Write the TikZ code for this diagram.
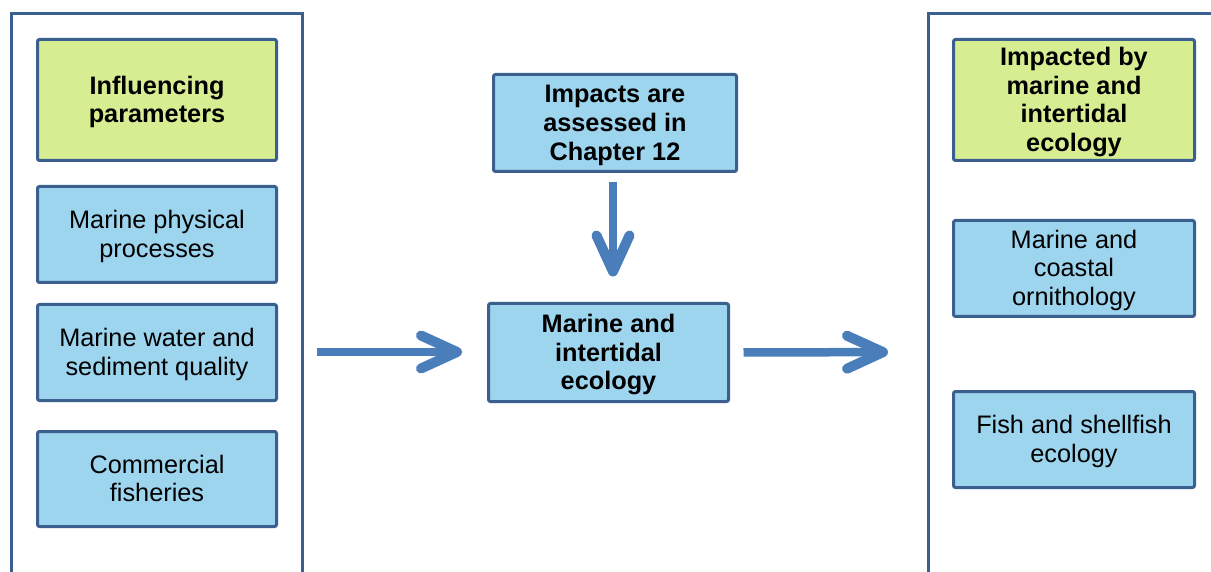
\documentclass[tikz,border=0pt]{standalone}
\usepackage{fontspec}
\setmainfont{Liberation Sans}
\usetikzlibrary{arrows.meta}
\definecolor{boxblue}{HTML}{9DD4EE}
\definecolor{boxgreen}{HTML}{D7ED91}
\definecolor{edgeblue}{HTML}{3B5F8E}
\definecolor{arrowblue}{HTML}{4A7EBB}
% fixed line boxes so that every text block is centred on the same metrics
\newcommand\boxtop{\rule{0pt}{24pt}}
\newcommand\boxbot{\rule[-7pt]{0pt}{7pt}}
\begin{document}
\begin{tikzpicture}[x=1pt,y=-1pt,
  box/.style={draw=edgeblue, line width=3pt, rounded corners=2pt, fill=boxblue,
    align=center, inner sep=0pt, font=\fontsize{25.3}{28.7}\selectfont},
  headbox/.style={box, fill=boxgreen, font=\fontsize{25.3}{28.7}\selectfont\bfseries},
  keybox/.style={box, font=\fontsize{25.3}{28.7}\selectfont\bfseries},
  panel/.style={draw=edgeblue, line width=3pt},
  bigarrow/.style={draw=arrowblue, line width=8.5pt,
    -{Straight Barb[length=36pt, width=33pt, line width=10pt, round]}}]
\useasboundingbox (0,0) rectangle (1211,572);

% open side panels
\draw[panel] (11.5,580) -- (11.5,14) -- (302,14) -- (302,580);
\draw[panel] (928,580) -- (928,14) -- (1220,14);
\coordinate (lpanel) at (302,352);
\coordinate (rpanel) at (928,352);

% left column
\node[headbox, minimum width=239pt, minimum height=121pt] (inf) at (157,100) {\boxtop Influencing\\parameters\boxbot};
\node[box, minimum width=239pt, minimum height=96pt] (phys) at (157,234.5) {\boxtop Marine physical\\processes\boxbot};
\node[box, minimum width=239pt, minimum height=96pt] (water) at (157,352.5) {\boxtop Marine water and\\sediment quality\boxbot};
\node[box, minimum width=239pt, minimum height=95pt] (comm) at (157,479) {\boxtop Commercial\\fisheries\boxbot};

% middle column
\node[keybox, minimum width=243pt, minimum height=97pt] (imp) at (615,123) {\boxtop Impacts are\\assessed in\\Chapter 12\boxbot};
\node[keybox, minimum width=240pt, minimum height=98pt] (eco) at (608.5,352.5) {\boxtop Marine and\\intertidal\\ecology\boxbot};

% right column
\node[headbox, minimum width=241pt, minimum height=121pt] (impd) at (1074,100) {\boxtop Impacted by\\marine and\\intertidal\\ecology\boxbot};
\node[box, minimum width=241pt, minimum height=96pt] (orn) at (1074,268.5) {\boxtop Marine and\\coastal\\ornithology\boxbot};
\node[box, minimum width=241pt, minimum height=96pt] (fish) at (1074,439.5) {\boxtop Fish and shellfish\\ecology\boxbot};

% flow arrows
\draw[bigarrow, shorten <=15pt, shorten >=25pt] (lpanel) -- (eco.west |- lpanel);
\draw[bigarrow, shorten <=13.5pt, shorten >=40pt] (eco.east) -- (rpanel);
\draw[bigarrow, shorten <=9.5pt, shorten >=25.5pt] (imp.south -| 613,0) -- (eco.north -| 613,0);
\end{tikzpicture}
\end{document}
